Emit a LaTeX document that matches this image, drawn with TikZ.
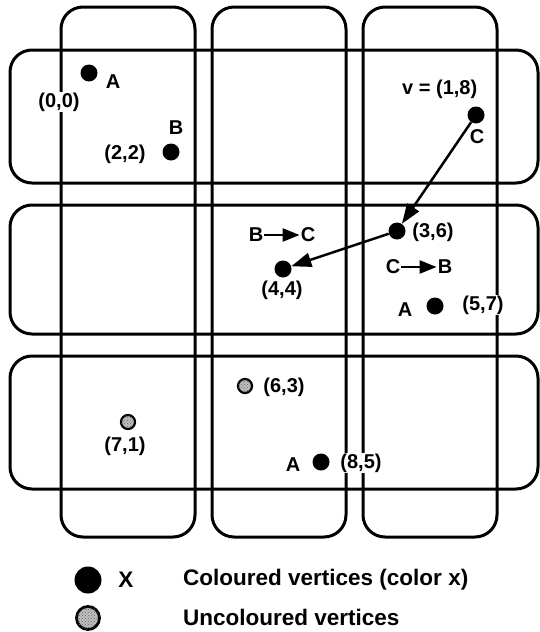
\documentclass[tikz,border=0pt]{standalone}
\usepackage{fontspec}
\setmainfont{Liberation Sans}
\usetikzlibrary{arrows.meta,patterns}

\tikzset{
  frame/.style={draw, line width=3pt, rounded corners=22pt},
  vtx/.style={circle, fill=black, inner sep=0pt, minimum size=17pt},
  uvtx/.style={circle, draw=black, line width=2.2pt, fill=black!25,
               postaction={pattern=crosshatch dots, pattern color=black!60},
               inner sep=0pt, minimum size=14pt},
  lbl/.style={font=\bfseries\fontsize{20}{24}\selectfont, inner sep=1pt, fill=white},
  leg/.style={font=\bfseries\fontsize{22.5}{27}\selectfont, inner sep=0pt, anchor=west},
  move/.style={line width=2.5pt, -{Triangle[length=20pt,width=14pt]}},
  swap/.style={line width=2.5pt, -{Triangle[length=17pt,width=13pt]}}
}

\begin{document}
\begin{tikzpicture}[x=1pt, y=-1pt]
\useasboundingbox (0,0) rectangle (540,632);

% the three columns
\draw[frame] (61,7)  rectangle (195,537);
\draw[frame] (212,7) rectangle (346,537);
\draw[frame] (363,7) rectangle (497,537);
% the three rows
\draw[frame] (10,50)  rectangle (538,183);
\draw[frame] (10,205) rectangle (538,334);
\draw[frame] (10,356) rectangle (538,489);

% coloured vertices
\node[vtx] (v00) at (89,73)   {};
\node[vtx] (v22) at (171,152) {};
\node[vtx] (v18) at (476,115) {};
\node[vtx] (v36) at (397,231) {};
\node[vtx] (v44) at (283,269) {};
\node[vtx] (v57) at (435,306) {};
\node[vtx] (v85) at (321,462) {};
% uncoloured vertices
\node[uvtx] (v63) at (245,386) {};
\node[uvtx] (v71) at (128,422) {};

% vertex labels and colours
\node[lbl] (c00) at (113,82)  {A};
\node[lbl] (l00) at (59,102)  {(0,0)};
\node[lbl] (c22) at (176,128) {B};
\node[lbl] (l22) at (125,154) {(2,2)};
\node[lbl, anchor=west] (l18) at (401,89) {v = (1,8)\hspace{22pt}};
\node[lbl] (c18) at (477,137) {C};
\node[lbl] (l36) at (433,232) {(3,6)};
\node[lbl] (l44) at (282,290) {(4,4)};
\node[lbl] (c57) at (405,310) {A};
\node[lbl] (l57) at (483,305) {(5,7)};
\node[lbl] (l63) at (284,387) {(6,3)};
\node[lbl] (l71) at (125,446) {(7,1)};
\node[lbl] (c85) at (293,465) {A};
\node[lbl] (l85) at (361,463) {(8,5)};

% colour swaps
\node[lbl] (sb1) at (256,235) {B};
\node[lbl] (sc1) at (308,235) {C};
\draw[swap] (sb1.east) -- (sc1.west);
\node[lbl] (sc2) at (393,267) {C};
\node[lbl] (sb2) at (445,267) {B};
\draw[swap] (sc2.east) -- (sb2.west);

% recolouring path
\draw[move] (v18) -- (v36);
\draw[move] (v36) -- (v44);

% legend
\node[vtx, minimum size=27pt] (kc) at (88,580) {};
\node[leg, anchor=center] (kx) at (126,580) {X};
\node[leg] (kt1) at (183,580) {Coloured vertices (color x)};
\node[uvtx, minimum size=23pt, line width=2.8pt] (ku) at (88,618) {};
\node[leg] (kt2) at (183,617) {Uncoloured vertices};
\end{tikzpicture}
\end{document}
